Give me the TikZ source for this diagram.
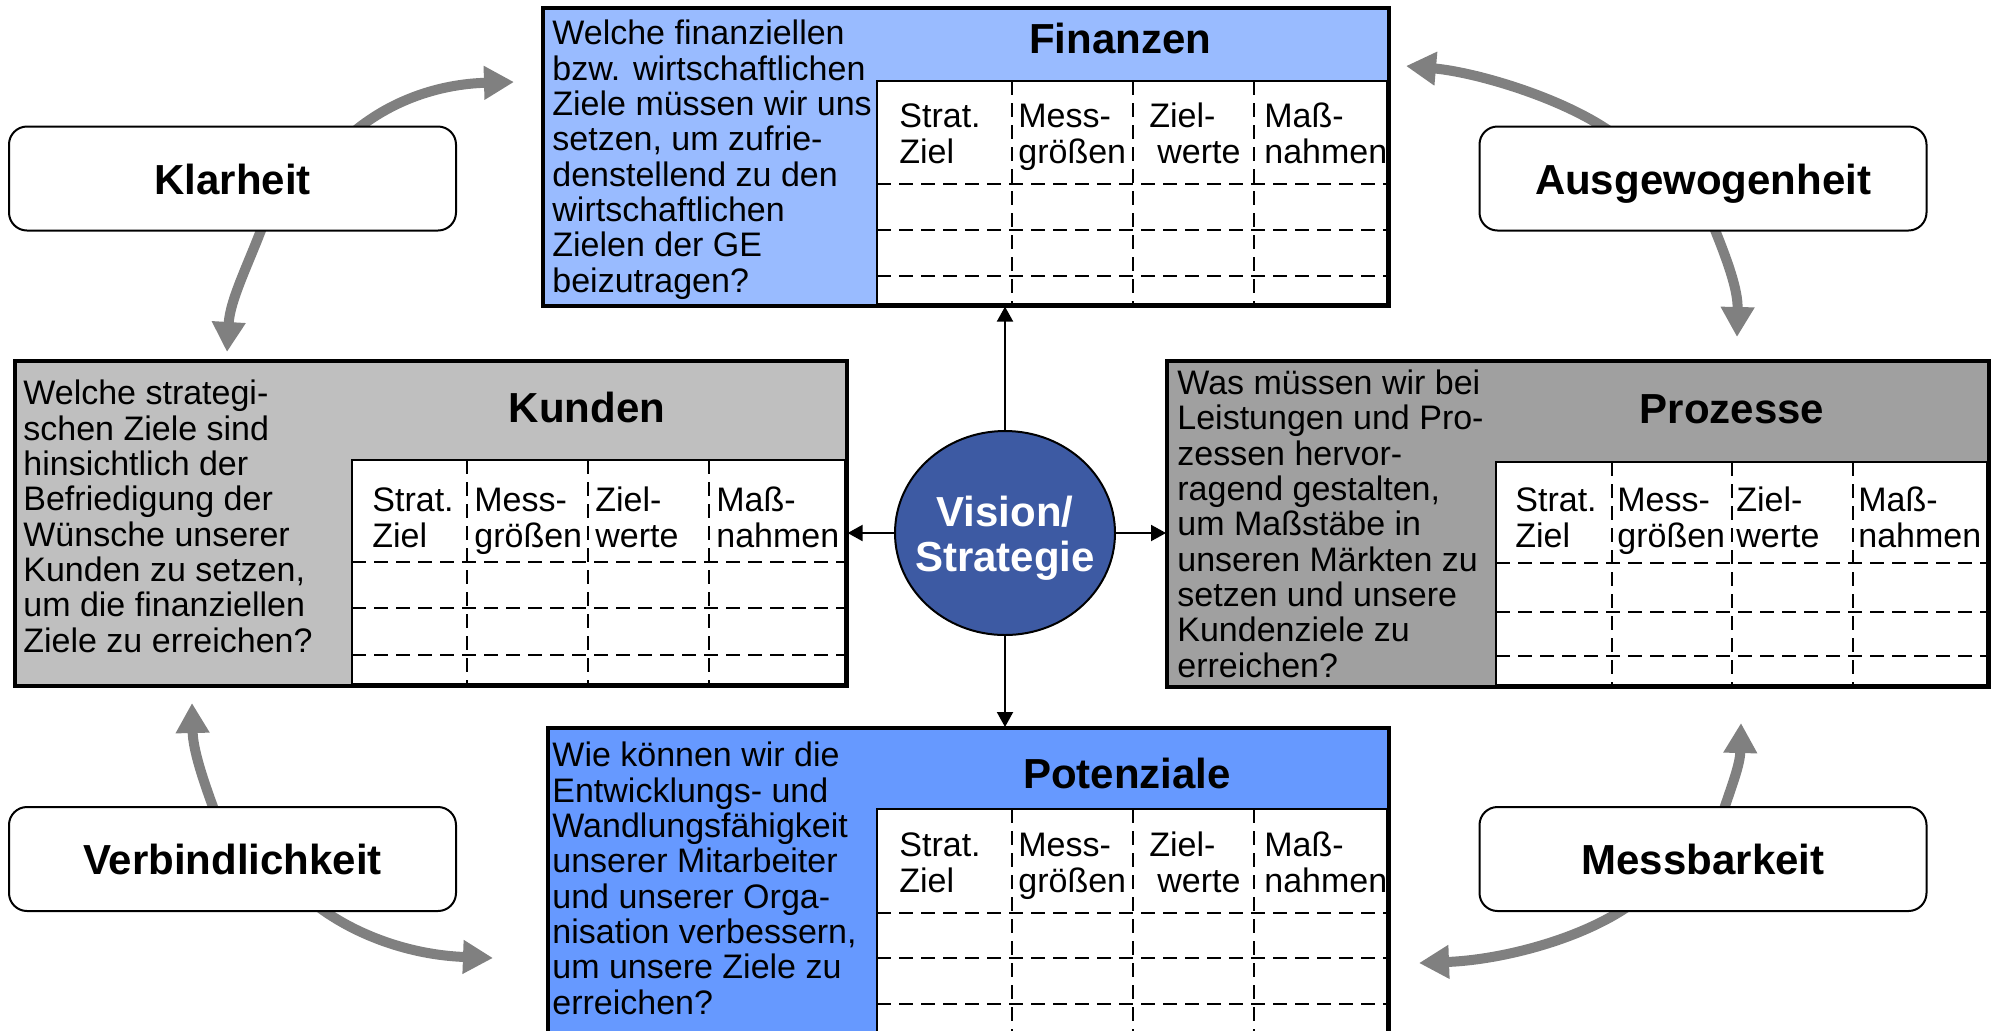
\documentclass[tikz,border=0pt]{standalone}
\usepackage{fontspec}
\setmainfont{Liberation Sans}
\usetikzlibrary{arrows.meta,shapes.geometric}
\definecolor{finblue}{RGB}{153,187,255}
\definecolor{potblue}{RGB}{102,153,255}
\definecolor{kungray}{RGB}{191,191,191}
\definecolor{progray}{RGB}{160,160,160}
\definecolor{visblue}{RGB}{61,90,163}
\definecolor{swinggray}{RGB}{128,128,128}
\begin{document}
% multi-line text nodes are anchored at the baseline of their last line
\begin{tikzpicture}[x=0.5pt,y=-0.5pt,
  body/.style={font=\fontsize{17}{17.65}\selectfont, align=left, anchor=base west, inner sep=0pt},
  title/.style={font=\fontsize{21}{22.5}\selectfont\bfseries, anchor=base, inner sep=0pt},
  panel/.style={draw, line width=1.3pt, anchor=north west, inner sep=0pt},
  frame/.style={line width=1.3pt},
  tbl/.style={draw, line width=1pt, fill=white},
  grid/.style={dash pattern=on 7pt off 4pt, line width=1.1pt},
  label/.style={draw, fill=white, rounded corners=9pt, line width=1pt,
    minimum width=223.5pt, minimum height=52pt, inner sep=0pt,
    text height=15.5pt, text depth=0pt,
    font=\fontsize{21}{22}\selectfont\bfseries},
  swing/.style={draw=swinggray, line width=5pt, -{Triangle[length=15pt,width=16pt,fill=swinggray]}},
  link/.style={line width=1pt, -{Triangle[length=7.5pt,width=8pt]}}]
\useasboundingbox (0,0) rectangle (1997,1030);

% curved grey arrows between the quality labels and the perspectives
\coordinate (kf0) at (350,135);  \coordinate (kf1) at (514,82);
\coordinate (kk0) at (263,225);  \coordinate (kk1) at (227,352);
\coordinate (af0) at (1615,135); \coordinate (af1) at (1406,66);
\coordinate (ap0) at (1713,225); \coordinate (ap1) at (1737,337);
\coordinate (vk0) at (216,815);  \coordinate (vk1) at (192,703);
\coordinate (vp0) at (316,905);  \coordinate (vp1) at (493,958);
\coordinate (mp0) at (1722,815); \coordinate (mp1) at (1741,723);
\coordinate (mo0) at (1630,905); \coordinate (mo1) at (1419,963);
\draw[swing] (kf0) .. controls (390,100) and (440,84) .. (kf1);
\draw[swing] (kk0) .. controls (248,265) and (230,300) .. (kk1);
\draw[swing] (af0) .. controls (1565,98) and (1475,72) .. (af1);
\draw[swing] (ap0) .. controls (1728,262) and (1738,290) .. (ap1);
\draw[swing] (vk0) .. controls (203,780) and (193,750) .. (vk1);
\draw[swing] (vp0) .. controls (355,935) and (410,955) .. (vp1);
\draw[swing] (mp0) .. controls (1732,785) and (1740,765) .. (mp1);
\draw[swing] (mo0) .. controls (1580,940) and (1500,960) .. (mo1);

% quality labels
\node[label] (klar) at (232.5,178.5) {Klarheit};
\node[label] (ausg) at (1703,178.5) {Ausgewogenheit};
\node[label] (verb) at (232.5,859) {Verbindlichkeit};
\node[label] (mess) at (1703,859) {Messbarkeit};

% ---- Finanzen ----
\node[panel, fill=finblue, minimum width=422.5pt, minimum height=148.5pt] (fin) at (542,7) {};
\draw[tbl] (877,81) rectangle (1387,304);
\foreach \yy in {184,230,276} \draw[grid] (877,\yy) -- (1387,\yy);
\foreach \xx in {1012,1133,1254} \draw[grid] (\xx,81) -- (\xx,304);
\draw[frame] (fin.north west) rectangle (fin.south east);
\node[title] (fint) at (1120,53) {Finanzen};
\node[body] (finq) at (552,292) {Welche finanziellen\\bzw. wirtschaftlichen\\Ziele müssen wir uns\\setzen, um zufrie-\\denstellend zu den\\wirtschaftlichen\\Zielen der GE\\beizutragen?};
\node[body] (fin1) at (899,163) {Strat.\\Ziel};
\node[body] (fin2) at (1018,163) {Mess-\\größen};
\node[body] (fin3) at (1149,163) {Ziel-\\\hspace*{4pt}werte};
\node[body] (fin4) at (1264,163) {Maß-\\nahmen};

% ---- Kunden ----
\node[panel, fill=kungray, minimum width=415.5pt, minimum height=162pt] (kun) at (14,360) {};
\draw[tbl] (352,460) rectangle (845,684);
\foreach \yy in {562,608,655} \draw[grid] (352,\yy) -- (845,\yy);
\foreach \xx in {467,588,709} \draw[grid] (\xx,460) -- (\xx,684);
\draw[frame] (kun.north west) rectangle (kun.south east);
\node[title] (kunt) at (587,422) {Kunden};
\node[body] (kunq) at (23,652) {Welche strategi-\\schen Ziele sind\\hinsichtlich der\\Befriedigung der\\Wünsche unserer\\Kunden zu setzen,\\um die finanziellen\\Ziele zu erreichen?};
\node[body] (kun1) at (372,547) {Strat.\\Ziel};
\node[body] (kun2) at (474,547) {Mess-\\größen};
\node[body] (kun3) at (595,547) {Ziel-\\werte};
\node[body] (kun4) at (716,547) {Maß-\\nahmen};

% ---- Prozesse ----
\node[panel, fill=progray, minimum width=410.5pt, minimum height=162.5pt] (pro) at (1166,360) {};
\draw[tbl] (1496,462) rectangle (1987,685);
\foreach \yy in {563,612,656} \draw[grid] (1496,\yy) -- (1987,\yy);
\foreach \xx in {1612,1732,1853} \draw[grid] (\xx,462) -- (\xx,685);
\draw[frame] (pro.north west) rectangle (pro.south east);
\node[title] (prot) at (1732,423) {Prozesse};
\node[body] (proq) at (1177,677) {Was müssen wir bei\\Leistungen und Pro-\\zessen hervor-\\ragend gestalten,\\um Maßstäbe in\\unseren Märkten zu\\setzen und unsere\\Kundenziele zu\\erreichen?};
\node[body] (pro1) at (1515,547) {Strat.\\Ziel};
\node[body] (pro2) at (1617,547) {Mess-\\größen};
\node[body] (pro3) at (1736,547) {Ziel-\\werte};
\node[body] (pro4) at (1858,547) {Maß-\\nahmen};

% ---- Potenziale ----
\node[panel, fill=potblue, minimum width=420pt, minimum height=152.5pt] (pot) at (547,727) {};
\draw[tbl] (877,809) rectangle (1387,1032);
\foreach \yy in {913,958,1004} \draw[grid] (877,\yy) -- (1387,\yy);
\foreach \xx in {1012,1133,1254} \draw[grid] (\xx,809) -- (\xx,1032);
\draw[frame] (pot.north west) rectangle (pot.south east);
\node[title] (pott) at (1127,788) {Potenziale};
\node[body] (potq) at (552,1014) {Wie können wir die\\Entwicklungs- und\\Wandlungsfähigkeit\\unserer Mitarbeiter\\und unserer Orga-\\nisation verbessern,\\um unsere Ziele zu\\erreichen?};
\node[body] (pot1) at (899,892) {Strat.\\Ziel};
\node[body] (pot2) at (1018,892) {Mess-\\größen};
\node[body] (pot3) at (1149,892) {Ziel-\\\hspace*{4pt}werte};
\node[body] (pot4) at (1264,892) {Maß-\\nahmen};

% ---- centre ----
\node[ellipse, draw, line width=1pt, fill=visblue, minimum width=110pt, minimum height=102pt,
  inner sep=0pt] (vs) at (1005,533) {};
\node[text=white, align=center, anchor=base, inner sep=0pt,
  font=\fontsize{21}{22.5}\selectfont\bfseries] (vst) at (1005,571) {Vision/\\Strategie};
\draw[link] (vs.north) -- (vs.north |- fin.south);
\draw[link] (vs.south) -- (vs.south |- pot.north);
\draw[link] (vs.west) -- (vs.west -| kun.east);
\draw[link] (vs.east) -- (vs.east -| pro.west);
\end{tikzpicture}
\end{document}
